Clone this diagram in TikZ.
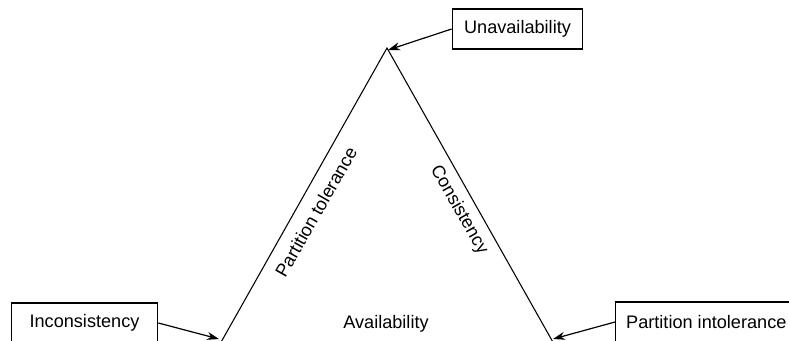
\documentclass[tikz,border=0pt]{standalone}
\usepackage{fontspec}
\setmainfont{Liberation Sans}
\usetikzlibrary{arrows.meta}
\begin{document}
\begin{tikzpicture}[x=0.75pt,y=-0.75pt,
  every node/.style={font=\fontsize{13.6}{16}\selectfont},
  labelbox/.style={draw,line width=0.8pt,minimum height=30pt,inner xsep=8pt,anchor=center},
  side/.style={line width=0.8pt},
  pointer/.style={line width=0.9pt,-{Stealth[length=9pt,width=6pt]}}]
  \useasboundingbox (0,0) rectangle (789,340);
  \clip (0,0) rectangle (789,340);
  % triangle corners
  \coordinate (top) at (387,48);
  \coordinate (bl) at (220,344);
  \coordinate (br) at (554,344);
  \draw[side] (bl) -- (top) -- (br);
  % edge labels
  \node[rotate=60.3] (pt) at (316,212) {Partition tolerance};
  \node[rotate=-60.3] (cons) at (459,210) {Consistency};
  \node (avail) at (386,324) {Availability};
  % outcome boxes
  \node[labelbox,minimum width=98pt] (unav) at (517.5,29) {Unavailability};
  \node[labelbox,minimum width=110pt] (incons) at (84.5,323) {Inconsistency};
  \node[labelbox,minimum width=136pt,anchor=west] (pint) at (615,322) {Partition intolerance};
  % pointers to the corners
  \coordinate (tipTop) at (388,50);
  \coordinate (tipL) at (219,339);
  \coordinate (tipR) at (553,339);
  \draw[pointer] (unav.west) -- (tipTop);
  \draw[pointer] (incons.east) -- (tipL);
  \draw[pointer] (pint.west) -- (tipR);
\end{tikzpicture}
\end{document}
